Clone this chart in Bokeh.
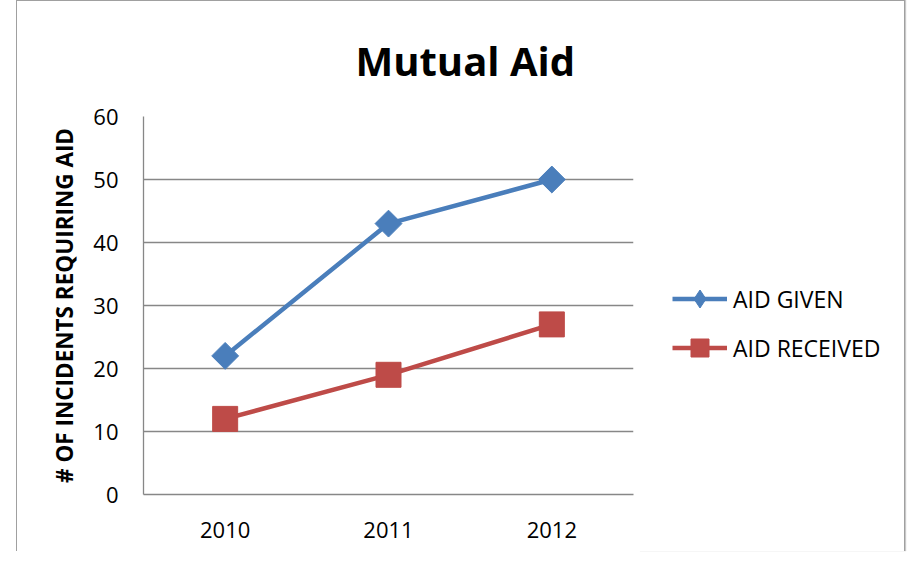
import numpy as np
from bokeh.plotting import figure
from bokeh.models import Range1d, FactorRange, Legend, LegendItem, Spacer
from bokeh.layouts import row
from bokeh.embed import file_html
from bokeh.resources import INLINE

years = ["2010", "2011", "2012"]
aid_given = [22, 43, 50]
aid_received = [12, 19, 27]
y_ticks = [0, 10, 20, 30, 40, 50, 60]
series_names = ["AID GIVEN", "AID RECEIVED"]

BLUE = "#4a7ebb"
RED = "#be4b48"
GRAY = "#878787"
FRAME = "1px solid #a0a0a0"
FONT = "Open Sans"
H = 551

# ---- main chart ----
p = figure(width=623, height=H, x_range=FactorRange(*years, range_padding=0),
           y_range=Range1d(0, 60), output_backend="svg", toolbar_location=None,
           min_border_left=126, min_border_right=7, min_border_top=115,
           min_border_bottom=58)
p.styles = {"border-left": FRAME, "border-top": FRAME}
p.outline_line_color = None
p.background_fill_color = "white"
p.border_fill_color = "white"

p.title.text = "Mutual Aid"
p.title.text_font = FONT
p.title.text_font_style = "bold"
p.title.text_font_size = "40px"
p.title.text_color = "black"
p.title.align = "left"
p.title.offset = 212
p.title.standoff = 58

p.line(years, aid_given, line_color=BLUE, line_width=4.5)
p.scatter(years, aid_given, marker="square", angle=np.pi / 4, size=19,
          fill_color=BLUE, line_color=BLUE)
p.line(years, aid_received, line_color=RED, line_width=4.5)
p.scatter(years, aid_received, marker="square", size=25,
          fill_color=RED, line_color=RED)

p.xgrid.grid_line_color = None
p.ygrid.grid_line_color = GRAY
p.ygrid.grid_line_width = 1.3
p.yaxis.ticker = y_ticks

for ax in (p.xaxis, p.yaxis):
    ax.axis_line_color = GRAY
    ax.axis_line_width = 1.3
    ax.major_tick_line_color = None
    ax.minor_tick_line_color = None
    ax.major_tick_out = 0
    ax.major_tick_in = 0
    ax.major_label_text_font = FONT
    ax.major_label_text_font_size = "22px"
    ax.major_label_text_color = "black"

p.yaxis.major_label_standoff = 25
p.xaxis.major_label_standoff = 27
p.yaxis.axis_label = "# OF INCIDENTS REQUIRING AID"
p.yaxis.axis_label_text_font = FONT
p.yaxis.axis_label_text_font_style = "bold"
p.yaxis.axis_label_text_font_size = "22.5px"
p.yaxis.axis_label_text_color = "black"
p.yaxis.axis_label_standoff = 10

# ---- legend panel ----
q = figure(width=266, height=H, x_range=Range1d(0, 1), y_range=Range1d(0, 1),
           output_backend="svg", toolbar_location=None,
           min_border_left=0, min_border_right=0, min_border_top=0,
           min_border_bottom=0)
q.styles = {"border-right": FRAME, "border-top": FRAME,
            "box-shadow": "1px 0px 1px #c8c8c8"}
q.axis.visible = False
q.grid.visible = False
q.outline_line_color = None
q.background_fill_color = "white"
q.border_fill_color = "white"

kx = [0.5]
ky = [np.nan]
kl1 = q.line(x=kx, y=ky, line_color=BLUE, line_width=4.5)
km1 = q.scatter(x=kx, y=ky, marker="diamond", fill_color=BLUE, line_color=BLUE)
kl2 = q.line(x=kx, y=ky, line_color=RED, line_width=4.5)
km2 = q.scatter(x=kx, y=ky, marker="square", fill_color=RED, line_color=RED)

legend = Legend(items=[LegendItem(label=series_names[0], renderers=[kl1, km1]),
                       LegendItem(label=series_names[1], renderers=[kl2, km2])],
                location=(33, 124), orientation="vertical",
                glyph_width=55, glyph_height=45, spacing=4, padding=0, margin=0,
                label_standoff=6, label_text_font=FONT,
                label_text_font_size="23px", label_text_color="black",
                border_line_color=None, background_fill_alpha=0)
q.add_layout(legend, "center")

layout = row(Spacer(width=16, height=H), p, q)
open("out.html", "w").write(file_html(layout, INLINE))
